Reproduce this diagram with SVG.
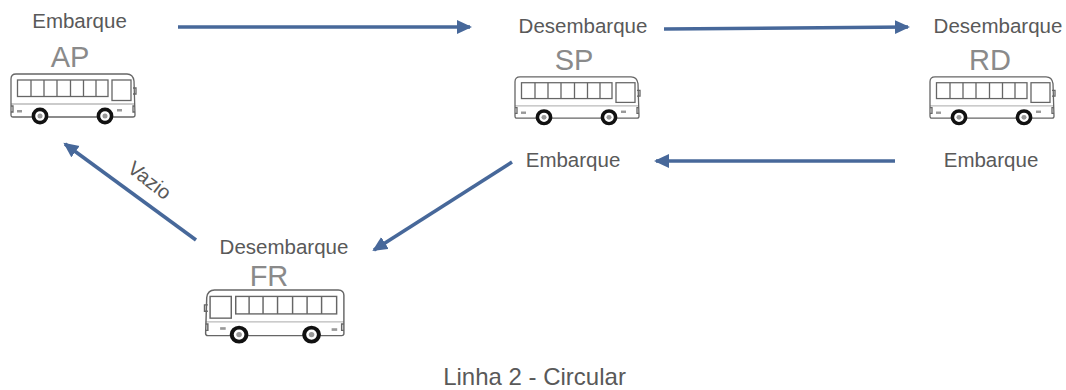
<svg xmlns="http://www.w3.org/2000/svg" width="1066" height="390" viewBox="0 0 1066 390">
<style>
text{font-family:"Liberation Sans",Arial,sans-serif;fill:#595959}
.l{font-size:20.500px;text-anchor:middle}
.c{font-size:29px;text-anchor:middle;fill:#8a8a8a}
.ln{fill:none;stroke:#666;stroke-width:1.3}
.w{fill:#fff;stroke:#111;stroke-width:3.6}
.h{fill:#999}
.a{fill:none;stroke:#47689a;stroke-width:3.6;marker-end:url(#m)}
</style>
<defs>
<marker id="m" markerUnits="userSpaceOnUse" markerWidth="16" markerHeight="16" refX="13" refY="7" orient="auto"><path d="M0 0L15 7L0 14Z" fill="#47689a"/></marker>
<symbol id="bus" overflow="visible">
<path class="ln" d="M6 1H117Q123 1 124 8L125 42Q125 44 123 44H3Q1 44 1 42L1 6Q1 1 6 1Z" fill="#fff"/>
<rect class="ln" x="7.500" y="7" width="90.500" height="16.500"/>
<path class="ln" d="M21 7V23.500M34 7V23.500M47 7V23.500M60.500 7V23.500M73.500 7V23.500M86 7V23.500"/>
<rect class="ln" x="102" y="7" width="19" height="20.500"/>
<path class="ln" stroke-opacity=".45" d="M1 31H125"/>
<path class="ln" d="M123 15h3v6h-3M1 33h2v6H1M125 33h-2v6h2"/>
<rect class="h" x="7" y="37" width="5" height="2.500"/>
<rect class="h" x="107" y="36" width="5" height="2.500"/>
<circle class="w" cx="30" cy="43" r="6.600"/><circle class="h" cx="30" cy="43" r="2.500"/>
<circle class="w" cx="95" cy="43" r="6.600"/><circle class="h" cx="95" cy="43" r="2.500"/>
</symbol>
</defs>
<g id="connectors">
<path class="a" d="M178 27H470"/>
<path class="a" d="M664 29L908 27"/>
<path class="a" d="M895 161H656"/>
<path class="a" d="M512 162L374 250"/>
<path class="a" d="M196 240L65 144"/>
</g>
<g id="node-ap">
<text class="l" x="79.500" y="28">Embarque</text>
<text class="c" x="70" y="67">AP</text>
<use href="#bus" transform="translate(10 73)"/>
</g>
<g id="node-sp">
<text class="l" x="583" y="33">Desembarque</text>
<text class="c" x="574" y="70">SP</text>
<use href="#bus" transform="translate(514 76) scale(1 .96)"/>
</g>
<g id="node-sp-embarque">
<text class="l" x="573" y="167">Embarque</text>
</g>
<g id="node-rd">
<text class="l" x="998" y="33">Desembarque</text>
<text class="c" x="990" y="70">RD</text>
<use href="#bus" transform="translate(929 76) scale(1 .96)"/>
</g>
<g id="node-rd-embarque">
<text class="l" x="991" y="167">Embarque</text>
</g>
<g id="node-fr">
<text class="l" x="284" y="254">Desembarque</text>
<text class="c" x="269" y="286">FR</text>
<use href="#bus" transform="translate(345 289) scale(-1.115 1.06)"/>
</g>
<text x="149" y="187" font-size="20" text-anchor="middle" transform="rotate(38 149 181)">Vazio</text>
<text x="534.500" y="385" font-size="24" text-anchor="middle">Linha 2 - Circular</text>
</svg>
